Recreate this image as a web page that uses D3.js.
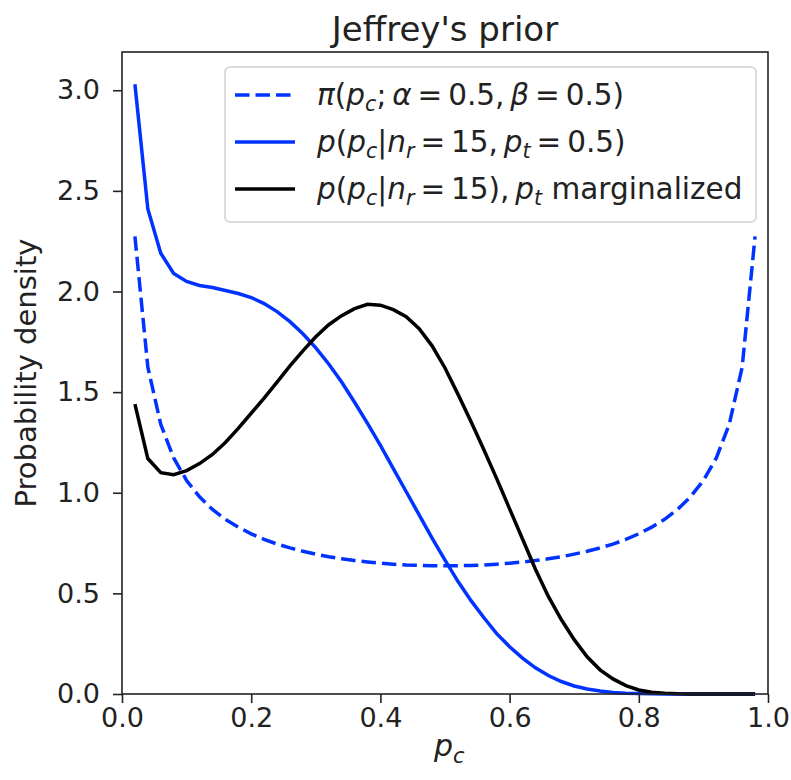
<!DOCTYPE html>
<html>
<head>
<meta charset="utf-8">
<script src="https://cdn.jsdelivr.net/npm/d3@7"></script>
<style>
  body { margin: 0; background: #fff; }
  text { font-family: "DejaVu Sans", sans-serif; fill: #222; }
</style>
</head>
<body>
<svg id="chart" width="791" height="780"></svg>
<script>
// p_c grid (0.02 .. 0.98)
const pc = [0.02, 0.04, 0.06, 0.08, 0.10, 0.12, 0.14, 0.16, 0.18, 0.20,
  0.22, 0.24, 0.26, 0.28, 0.30, 0.32, 0.34, 0.36, 0.38, 0.40,
  0.42, 0.44, 0.46, 0.48, 0.50, 0.52, 0.54, 0.56, 0.58, 0.60,
  0.62, 0.64, 0.66, 0.68, 0.70, 0.72, 0.74, 0.76, 0.78, 0.80,
  0.82, 0.84, 0.86, 0.88, 0.90, 0.92, 0.94, 0.96, 0.98];

// Jeffrey's prior, Beta(0.5, 0.5)
const prior = [2.274, 1.624, 1.340, 1.173, 1.061, 0.980, 0.917, 0.868, 0.829, 0.796,
  0.768, 0.745, 0.726, 0.709, 0.695, 0.682, 0.672, 0.663, 0.656, 0.650,
  0.645, 0.641, 0.639, 0.637, 0.637, 0.637, 0.639, 0.641, 0.645, 0.650,
  0.656, 0.663, 0.672, 0.682, 0.695, 0.709, 0.726, 0.745, 0.768, 0.796,
  0.829, 0.868, 0.917, 0.980, 1.061, 1.173, 1.340, 1.624, 2.274];

// posterior with p_t = 0.5
const postFixed = [3.03, 2.41, 2.19, 2.09, 2.05, 2.03, 2.02, 2.005, 1.99, 1.97,
  1.94, 1.90, 1.85, 1.79, 1.72, 1.64, 1.55, 1.45, 1.345, 1.235,
  1.12, 1.005, 0.89, 0.775, 0.665, 0.56, 0.465, 0.38, 0.30, 0.235,
  0.178, 0.13, 0.092, 0.062, 0.04, 0.025, 0.015, 0.008, 0.004, 0.002,
  0.001, 0.0005, 0.0002, 0.0001, 0, 0, 0, 0, 0];

// posterior with p_t marginalized
const postMarg = [1.44, 1.17, 1.10, 1.09, 1.11, 1.145, 1.19, 1.25, 1.32, 1.395,
  1.47, 1.55, 1.63, 1.705, 1.775, 1.835, 1.88, 1.915, 1.936, 1.932,
  1.91, 1.875, 1.815, 1.73, 1.62, 1.49, 1.355, 1.215, 1.07, 0.92,
  0.77, 0.62, 0.485, 0.37, 0.27, 0.185, 0.12, 0.075, 0.042, 0.02,
  0.009, 0.004, 0.0015, 0.0005, 0.0001, 0, 0, 0, 0];

const xTicks = [0, 0.2, 0.4, 0.6, 0.8, 1.0];
const yTicks = [0, 0.5, 1.0, 1.5, 2.0, 2.5, 3.0];

const blue = "#0033ff";
const dash = "14.5,6";

const svg = d3.select("#chart");
const margin = { top: 52, right: 23, bottom: 86, left: 122 };
const width = 791, height = 780;

const x = d3.scaleLinear().domain([0, 1]).range([margin.left, width - margin.right]);
const y = d3.scaleLinear().domain([0, 3.19]).range([height - margin.bottom, margin.top]);

// axes
const xAxis = d3.axisBottom(x).tickValues(xTicks).tickFormat(d3.format(".1f")).tickSize(9).tickPadding(5);
const yAxis = d3.axisLeft(y).tickValues(yTicks).tickFormat(d3.format(".1f")).tickSize(9).tickPadding(13);

const gx = svg.append("g").attr("transform", `translate(0,${height - margin.bottom})`).call(xAxis);
const gy = svg.append("g").attr("transform", `translate(${margin.left},0)`).call(yAxis);
[gx, gy].forEach(g => {
  g.select(".domain").remove();
  g.selectAll(".tick line").attr("stroke", "#222").attr("stroke-width", 1.6);
  g.selectAll(".tick text").style("font-size", "27px").attr("fill", "#222");
});

// lines
const line = vals => d3.line().x((d, i) => x(pc[i])).y(d => y(d))(vals);

svg.append("path").attr("d", line(prior)).attr("fill", "none")
  .attr("stroke", blue).attr("stroke-width", 3.5).attr("stroke-dasharray", dash);
svg.append("path").attr("d", line(postFixed)).attr("fill", "none")
  .attr("stroke", blue).attr("stroke-width", 3.5);
svg.append("path").attr("d", line(postMarg)).attr("fill", "none")
  .attr("stroke", "#000").attr("stroke-width", 3.5);

// frame
svg.append("rect")
  .attr("x", margin.left).attr("y", margin.top)
  .attr("width", width - margin.left - margin.right)
  .attr("height", height - margin.top - margin.bottom)
  .attr("fill", "none").attr("stroke", "#222").attr("stroke-width", 1.6);

// mathtext helper: segments [text, italic, sub]
function mathText(g, px, py, size, segs, anchor) {
  const t = g.append("text").attr("x", px).attr("y", py)
    .style("font-size", size + "px").attr("text-anchor", anchor || "start");
  let subbed = false;
  segs.forEach(([s, it, sub]) => {
    const sp = t.append("tspan").text(s);
    if (it) sp.style("font-style", "italic");
    if (sub) {
      sp.style("font-size", (size * 0.7) + "px");
      if (!subbed) sp.attr("dy", size * 0.22);
    } else if (subbed) sp.attr("dy", -size * 0.22);
    subbed = !!sub;
  });
  return t;
}

// legend
const lg = svg.append("g");
lg.append("rect").attr("x", 225).attr("y", 67).attr("width", 531).attr("height", 155)
  .attr("rx", 5).attr("fill", "#fff").attr("fill-opacity", 0.8)
  .attr("stroke", "#d0d0d0").attr("stroke-width", 1.5);

const ts = "\u2009"; // thin space, like mathtext spacing
const rows = [
  { y: 95, color: blue, dash: dash,
    segs: [["π", 1], ["(", 0], ["p", 1], ["c", 1, 1], [";" + ts, 0], ["α", 1], [ts + "=" + ts + "0.5," + ts, 0], ["β", 1], [ts + "=" + ts + "0.5)", 0]] },
  { y: 142, color: blue, dash: null,
    segs: [["p", 1], ["(", 0], ["p", 1], ["c", 1, 1], ["|", 0], ["n", 1], ["r", 1, 1], [ts + "=" + ts + "15," + ts, 0], ["p", 1], ["t", 1, 1], [ts + "=" + ts + "0.5)", 0]] },
  { y: 189, color: "#000", dash: null,
    segs: [["p", 1], ["(", 0], ["p", 1], ["c", 1, 1], ["|", 0], ["n", 1], ["r", 1, 1], [ts + "=" + ts + "15)," + ts, 0], ["p", 1], ["t", 1, 1], [" marginalized", 0]] }
];
rows.forEach(r => {
  lg.append("line").attr("x1", 235).attr("x2", 295).attr("y1", r.y).attr("y2", r.y)
    .attr("stroke", r.color).attr("stroke-width", 3.5)
    .attr("stroke-dasharray", r.dash);
  mathText(lg, 317, r.y + 10, 29.5, r.segs);
});

// title and labels
svg.append("text").attr("x", (margin.left + width - margin.right) / 2).attr("y", 41)
  .attr("text-anchor", "middle").style("font-size", "34px").text("Jeffrey's prior");

svg.append("text")
  .attr("transform", `translate(36,${(margin.top + height - margin.bottom) / 2}) rotate(-90)`)
  .attr("text-anchor", "middle").style("font-size", "29px").text("Probability density");

mathText(svg, (margin.left + width - margin.right) / 2 - 11, 756, 30, [["p", 1], ["c", 1, 1]]);
</script>
</body>
</html>
